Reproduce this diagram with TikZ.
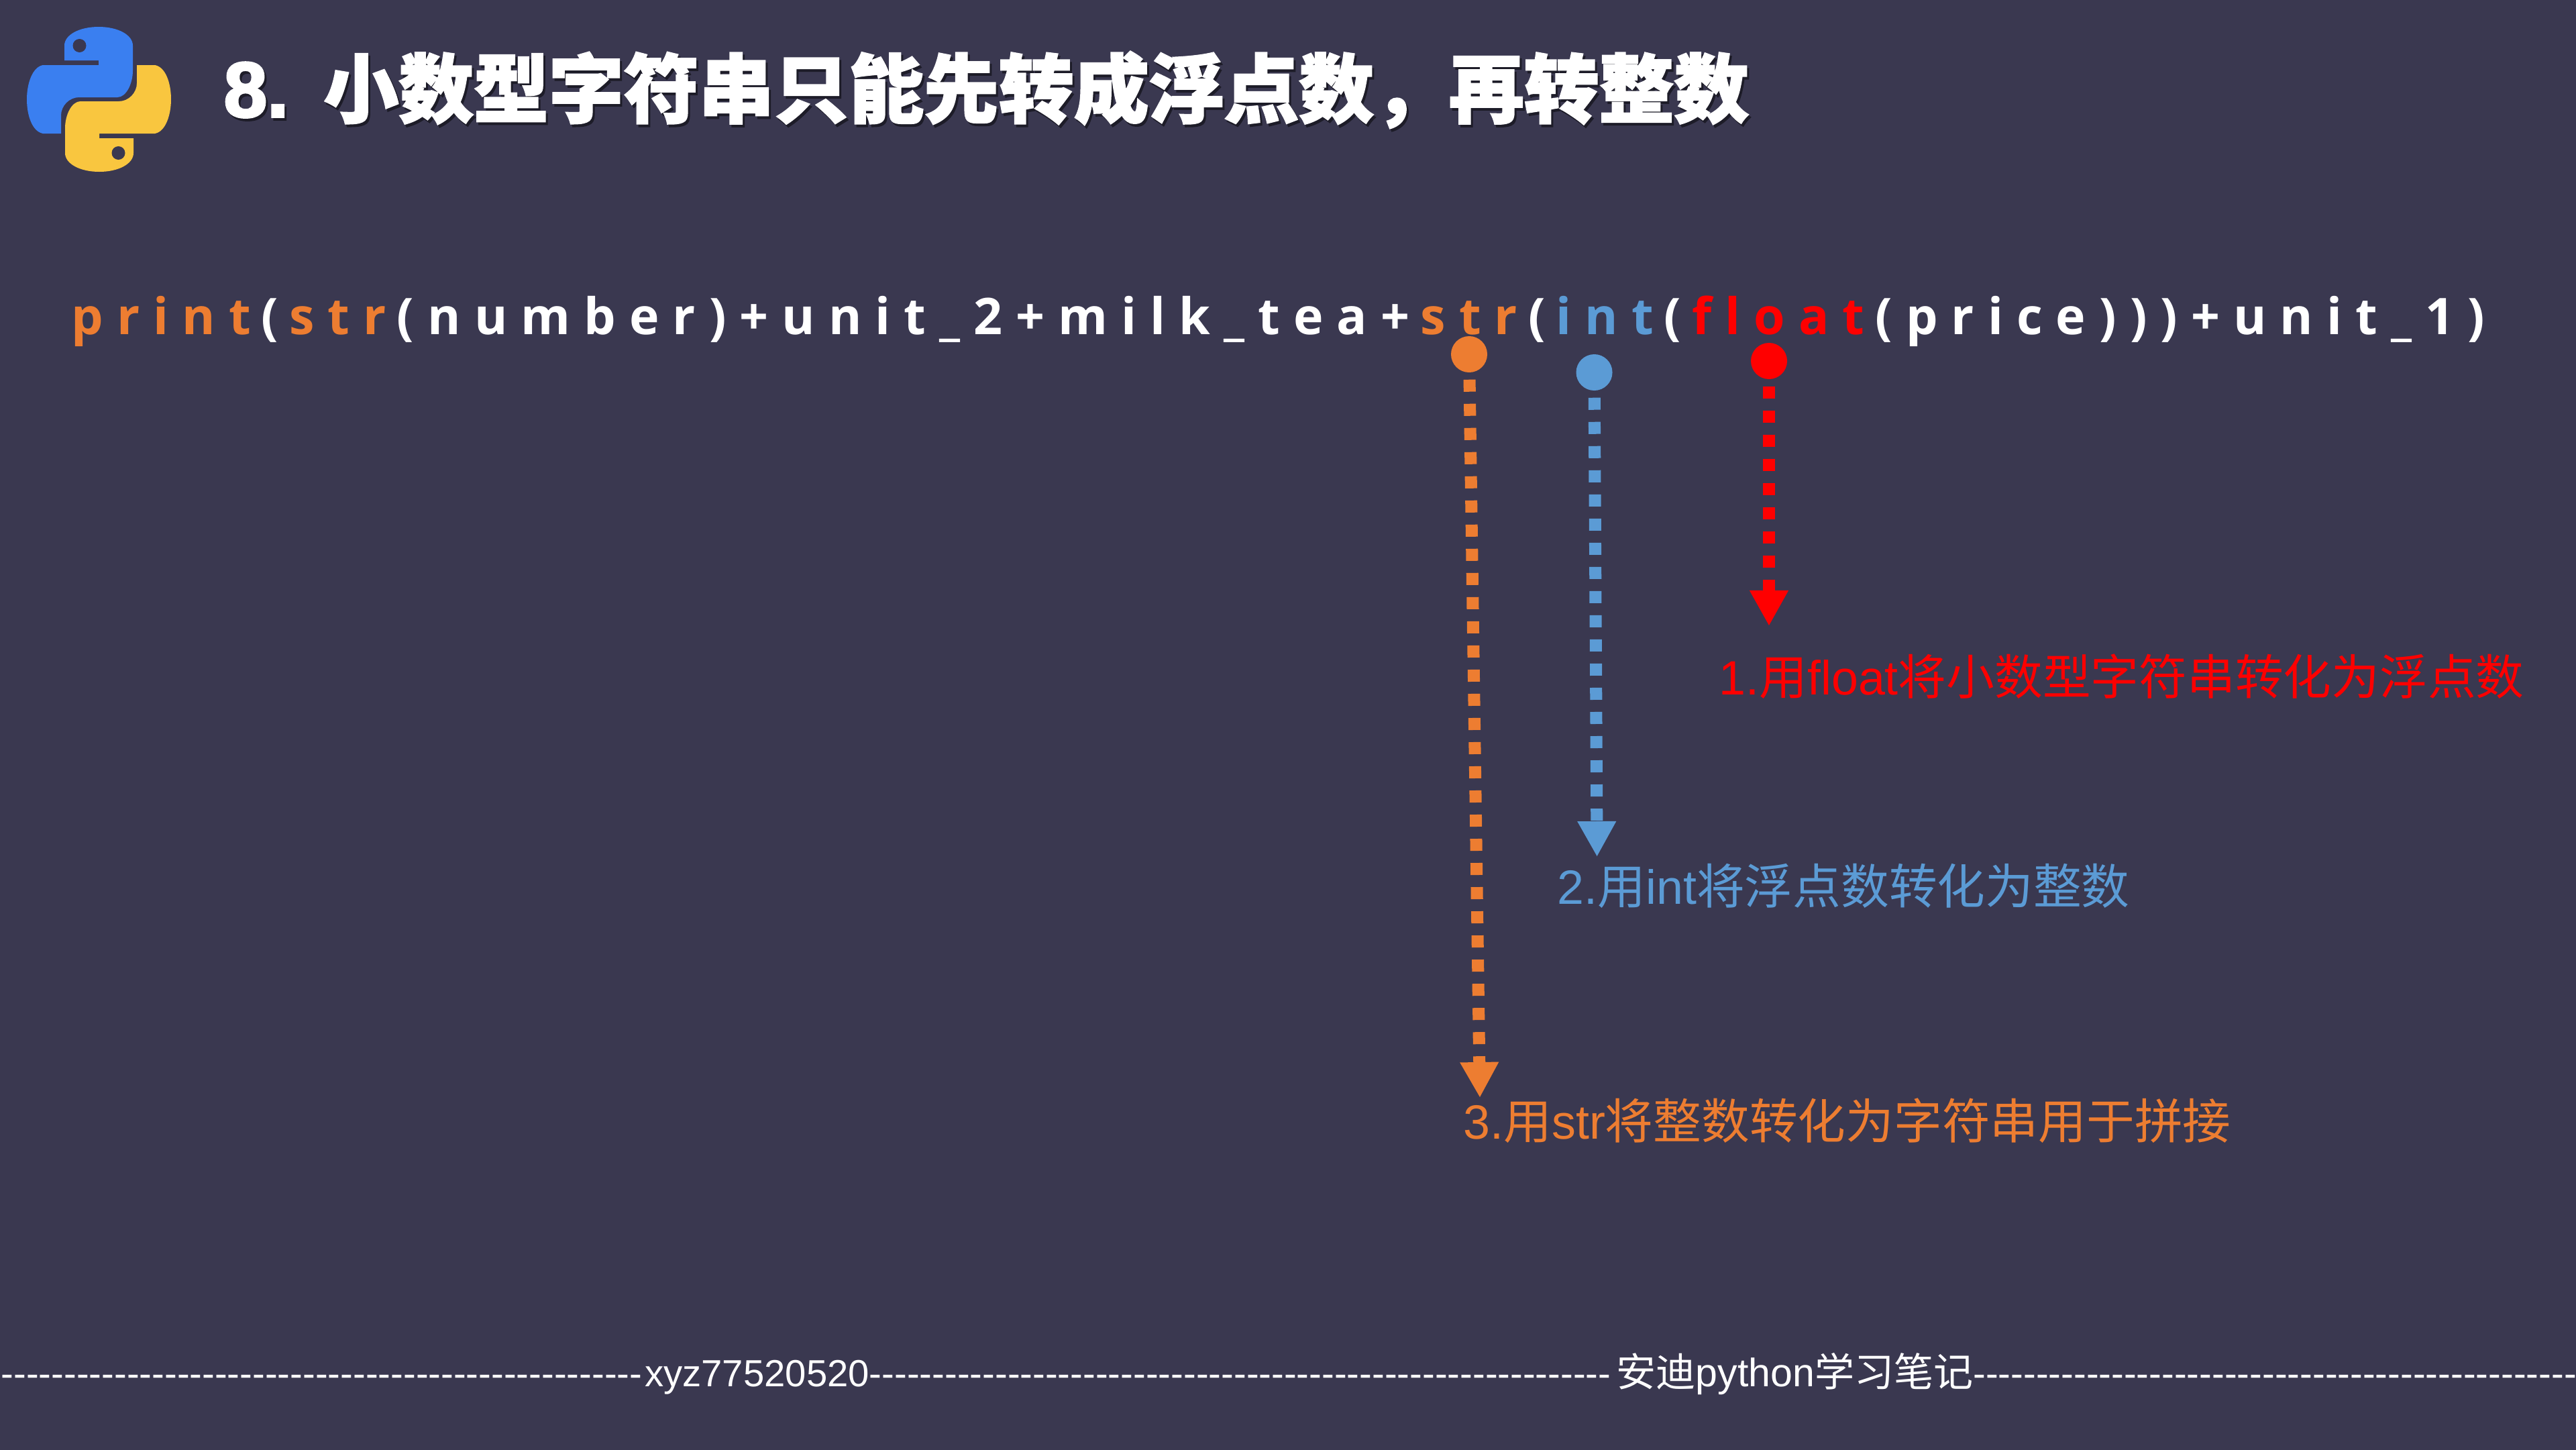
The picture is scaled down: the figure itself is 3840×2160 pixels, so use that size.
\documentclass[tikz,border=0pt]{standalone}
\usepackage{fontspec}
\setmainfont{Liberation Sans}
\newfontfamily\cjk{Noto Sans CJK SC}
\newfontfamily\cjkheavy[BoldFeatures={FakeBold=2}]{Noto Sans CJK SC}
\newfontfamily\latinheavy[BoldFeatures={FakeBold=3}]{Liberation Sans}
\newfontfamily\codefont[LetterSpace=26.7,Ligatures=NoCommon]{Open Sans}
\usetikzlibrary{arrows.meta, positioning}

\definecolor{slidebg}{HTML}{3A3850}
\definecolor{strorange}{HTML}{ED7D31}
\definecolor{intblue}{HTML}{5B9BD5}
\definecolor{floatred}{HTML}{FF0000}
\definecolor{logoblue}{HTML}{3A7FF0}
\definecolor{logoyellow}{HTML}{F9C63F}

\newcommand{\titletext}{\fontsize{33}{38}\selectfont{\latinheavy\bfseries 8.}\kern.52cm{\cjkheavy\bfseries\fontsize{31.8}{38}\selectfont 小数型字符串只能先转成浮点数，再转整数}}
\newcommand{\hyphens}[1]{\foreach \i in {1,...,#1}{-}}
\newcommand{\hlcode}[2]{\kern.16cm\textcolor{#1}{#2}\kern.16cm}
\newcommand{\snakepath}{(96,90) -- (147,90) -- (147,97) -- (64,97) .. controls (48,100) and (40,125) .. (40,148) .. controls (40,172) and (48,196) .. (64,199) -- (91,199) -- (91,172) .. controls (91,158) and (103,145) .. (118,145) -- (175,145) .. controls (188,145) and (198,125) .. (198,105) -- (198,68) .. controls (198,52) and (176,40) .. (147,40) .. controls (118,40) and (96,52) .. (96,68) -- cycle}

\begin{document}
\begin{tikzpicture}[
	x=.01cm, y=-.01cm,
	every node/.style={inner sep=0pt},
	heading/.style={anchor=base west},
	codeline/.style={anchor=base west, text=white, font=\codefont\bfseries\fontsize{21.4}{26}\selectfont},
	callout/.style={anchor=base west, font=\fontsize{20.4}{25}\selectfont},
	marker/.style={circle, fill, minimum size=.54cm},
	dotline/.style={line width=.18cm, dash pattern=on .18cm off .18cm, dash phase=.26cm, -{Triangle[width=.54cm,length=.53cm]}},
	footer/.style={anchor=base west, text=white, font=\fontsize{16}{20}\selectfont}
	]
	\useasboundingbox (0,0) rectangle (3840,2160);
	\fill[slidebg] (-10,-10) rectangle (3850,2170);
	
	% Logo
	\fill[logoblue] \snakepath;
	\fill[slidebg] (118.5,68) circle (10);
	\begin{scope}[rotate around={180:(147.5,148)}]
		\fill[logoyellow] \snakepath;
		\fill[slidebg] (118.5,68) circle (10);
	\end{scope}
	
	% Nodes
	\node[heading, text=black!50!slidebg] (titleshadow) at (336,178) {\titletext};
	\node[heading, text=white] (title) at (333,174) {\titletext};
	\node[codeline] (code) at (106,498) {\textcolor{strorange}{print}\kern.16cm(\hlcode{strorange}{str}(number)+unit\_2+milk\_tea+\hlcode{strorange}{str}(\hlcode{intblue}{int}(\hlcode{floatred}{float}(price)))+unit\_1)};
	\node[marker, strorange] (strdot) at (2190,528) {};
	\node[marker, intblue] (intdot) at (2376.5,555) {};
	\node[marker, floatred] (floatdot) at (2637,538) {};
	\coordinate (strtip) at (2206,1636);
	\coordinate (inttip) at (2380.6,1277);
	\coordinate (floattip) at (2637,933);
	\node[callout, text=floatred] (floatlabel) at (2562,1035) {1.{\cjk 用}float{\cjk 将小数型字符串转化为浮点数}};
	\node[callout, text=intblue] (intlabel) at (2321,1347) {2.{\cjk 用}int{\cjk 将浮点数转化为整数}};
	\node[callout, text=strorange] (strlabel) at (2181,1697) {3.{\cjk 用}str{\cjk 将整数转化为字符串用于拼接}};
	\node[footer] (footer) at (1,2066) {\hyphens{51}\kern.04cm xyz77520520\hyphens{59}\kern.08cm{\fontsize{16.8}{20}\selectfont{\cjk 安迪}python{\cjk 学习笔记}}\hyphens{48}};
	
	% Arrows
	\draw[dotline, strorange] (strdot) -- (strtip);
	\draw[dotline, intblue] (intdot) -- (inttip);
	\draw[dotline, floatred] (floatdot) -- (floattip);
\end{tikzpicture}
\end{document}
